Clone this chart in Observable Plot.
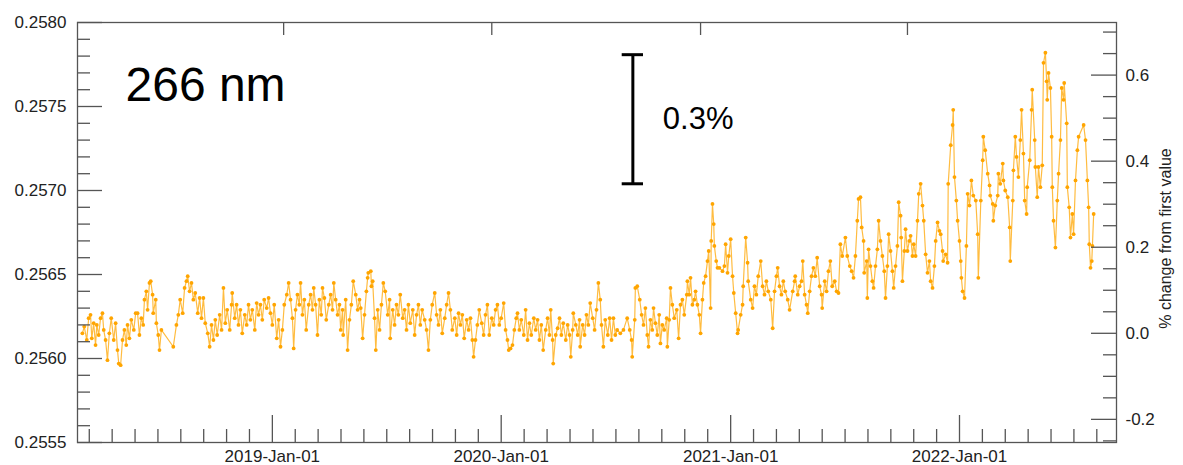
<!DOCTYPE html>
<html><head><meta charset="utf-8">
<script src="https://cdn.jsdelivr.net/npm/d3@7"></script>
<script src="https://cdn.jsdelivr.net/npm/@observablehq/plot@0.6"></script>
<style>body{margin:0;background:#fff} svg{display:block}</style>
</head><body><div id="chart"></div>
<script>
// ---- data ----
const epoch = "2018-01-01";           // day 0 of dayOffsets
const dayOffsets = [
62,65,69,72,75,77,80,83,85,88,
91,94,96,99,102,105,108,112,115,118,
120,123,126,129,132,134,137,140,144,147,
150,153,156,159,161,164,166,169,171,174,
175,179,180,183,185,188,207,212,215,218,
222,225,228,230,233,236,239,242,246,249,
252,255,258,262,265,268,271,274,277,281,
284,287,290,293,297,300,301,305,308,311,
314,317,321,324,327,330,333,337,340,343,
346,349,352,356,359,362,365,368,372,375,
378,381,384,388,391,394,397,399,402,405,
408,410,413,416,419,423,426,429,431,434,
437,440,443,445,448,451,455,458,461,463,
466,469,472,474,477,478,482,485,488,491,
494,498,501,504,506,509,512,515,517,518,
522,523,525,528,530,533,536,539,542,545,
549,552,553,557,560,563,566,569,573,576,
579,582,585,589,592,595,598,601,604,608,
611,614,617,620,624,627,630,633,636,640,
643,646,649,652,656,659,662,665,668,671,
675,678,681,684,686,689,692,695,699,702,
705,708,711,715,718,721,724,727,730,734,
737,740,742,745,748,751,754,756,759,762,
766,769,772,775,778,782,785,788,791,794,
797,801,804,807,809,812,813,817,820,823,
826,829,833,836,839,841,844,845,849,852,
855,856,860,863,866,869,872,876,879,882,
885,888,890,893,896,900,903,906,909,912,
915,920,925,931,935,938,939,943,944,947,
951,954,957,960,963,965,968,971,973,976,
979,982,984,987,990,994,995,998,1000,1003,
1006,1010,1013,1016,1019,1022,1026,1027,1030,1032,
1035,1038,1040,1043,1046,1048,1051,1053,1056,1059,
1061,1064,1065,1067,1069,1070,1073,1075,1078,1083,
1086,1088,1091,1093,1096,1099,1101,1104,1107,1108,
1112,1115,1116,1120,1123,1124,1128,1131,1134,1137,
1140,1144,1147,1150,1153,1156,1160,1163,1166,1169,
1171,1174,1177,1180,1183,1187,1190,1195,1198,1199,
1203,1206,1209,1211,1214,1217,1219,1222,1225,1228,
1231,1234,1238,1241,1242,1246,1249,1252,1255,1258,
1262,1265,1268,1271,1274,1279,1282,1286,1289,1292,
1295,1298,1300,1303,1305,1308,1309,1313,1314,1316,
1319,1322,1324,1327,1330,1332,1335,1338,1341,1343,
1346,1348,1351,1354,1356,1359,1362,1364,1367,1368,
1370,1373,1375,1378,1381,1383,1386,1388,1391,1394,
1396,1399,1402,1404,1407,1410,1413,1415,1418,1421,
1423,1426,1429,1431,1434,1435,1439,1442,1443,1447,
1450,1451,1453,1456,1458,1461,1463,1464,1466,1469,
1472,1474,1477,1480,1483,1487,1490,1491,1495,1498,
1499,1502,1506,1509,1510,1514,1515,1518,1522,1523,
1526,1530,1531,1534,1538,1541,1542,1546,1547,1550,
1552,1555,1558,1560,1563,1565,1568,1569,1573,1576,
1577,1581,1582,1585,1587,1590,1593,1595,1598,1600,
1601,1603,1606,1608,1609,1611,1614,1617,1619,1622,
1624,1627,1628,1632,1633,1636,1638,1641,1643,1646,
1649,1651,1659,1662,1665,1667,1668,1670,1672,1673,
1675
];
const values = [
.25615,.25619,.25611,.25624,.25626,.25612,.25621,.25608,.25620,.25614,
.25624,.25627,.25617,.25611,.25599,.25615,.25624,.25611,.25621,.25605,
.25597,.25596,.25611,.25617,.25608,.25620,.25612,.25623,.25617,.25627,
.25627,.25614,.25624,.25620,.25635,.25640,.25629,.25645,.25646,.25638,
.25627,.25635,.25621,.25614,.25605,.25617,.25607,.25620,.25626,.25635,
.25627,.25642,.25646,.25649,.25640,.25645,.25635,.25639,.25627,.25636,
.25624,.25636,.25621,.25615,.25607,.25620,.25611,.25623,.25614,.25626,
.25617,.25642,.25621,.25629,.25617,.25632,.25639,.25624,.25632,.25620,
.25629,.25615,.25626,.25620,.25632,.25623,.25629,.25617,.25633,.25626,
.25632,.25623,.25635,.25630,.25636,.25627,.25620,.25632,.25612,.25623,
.25607,.25617,.25632,.25638,.25645,.25635,.25624,.25606,.25629,.25638,
.25632,.25645,.25626,.25635,.25617,.25632,.25638,.25629,.25642,.25632,
.25614,.25635,.25626,.25642,.25636,.25623,.25632,.25638,.25629,.25645,
.25635,.25626,.25632,.25617,.25629,.25614,.25635,.25605,.25623,.25632,
.25646,.25638,.25629,.25635,.25630,.25612,.25626,.25640,.25648,.25651,
.25652,.25643,.25646,.25624,.25605,.25629,.25617,.25632,.25645,.25640,
.25626,.25635,.25612,.25629,.25620,.25632,.25626,.25638,.25624,.25629,
.25617,.25632,.25621,.25629,.25614,.25626,.25632,.25620,.25629,.25623,
.25617,.25605,.25623,.25632,.25639,.25626,.25620,.25629,.25615,.25624,
.25632,.25639,.25629,.25617,.25624,.25614,.25627,.25620,.25626,.25612,
.25623,.25617,.25624,.25611,.25601,.25611,.25620,.25629,.25621,.25614,
.25626,.25632,.25614,.25624,.25620,.25629,.25632,.25620,.25624,.25633,
.25617,.25611,.25605,.25606,.25608,.25617,.25624,.25627,.25617,.25623,
.25614,.25629,.25611,.25621,.25614,.25624,.25617,.25623,.25611,.25620,
.25605,.25617,.25624,.25614,.25629,.25611,.25597,.25614,.25618,.25624,
.25614,.25621,.25611,.25620,.25614,.25601,.25617,.25627,.25620,.25614,
.25623,.25607,.25620,.25614,.25626,.25620,.25633,.25624,.25617,.25629,
.25645,.25635,.25620,.25607,.25623,.25614,.25624,.25611,.25624,.25614,
.25617,.25615,.25617,.25624,.25617,.25611,.25601,.25623,.25642,.25643,
.25635,.25626,.25620,.25630,.25614,.25607,.25623,.25617,.25630,.25621,
.25614,.25626,.25609,.25620,.25617,.25624,.25607,.25623,.25642,.25632,
.25624,.25629,.25612,.25632,.25635,.25626,.25638,.25646,.25638,.25648,
.25632,.25635,.25640,.25632,.25626,.25615,.25635,.25645,.25649,.25658,
.25664,.25630,.25670,.25692,.25680,.25667,.25658,.25654,.25654,.25652,
.25655,.25668,.25651,.25661,.25671,.25649,.25639,.25627,.25615,.25617,
.25626,.25632,.25643,.25672,.25657,.25646,.25635,.25630,.25643,.25638,
.25649,.25658,.25643,.25638,.25646,.25640,.25635,.25618,.25640,.25649,
.25654,.25643,.25638,.25646,.25640,.25635,.25629,.25640,.25646,.25649,
.25638,.25643,.25646,.25658,.25638,.25632,.25627,.25640,.25649,.25654,
.25649,.25660,.25643,.25638,.25630,.25646,.25640,.25652,.25658,.25643,
.25646,.25640,.25639,.25668,.25661,.25672,.25661,.25655,.25652,.25648,
.25661,.25682,.25695,.25696,.25678,.25670,.25651,.25658,.25636,.25665,
.25655,.25646,.25642,.25655,.25665,.25682,.25670,.25661,.25652,.25636,
.25655,.25674,.25664,.25652,.25642,.25655,.25667,.25693,.25685,.25672,
.25646,.25664,.25677,.25664,.25670,.25673,.25661,.25668,.25661,.25682,
.25698,.25704,.25691,.25682,.25662,.25651,.25658,.25646,.25642,.25655,
.25670,.25681,.25676,.25674,.25664,.25658,.25662,.25657,.25704,.25727,
.25739,.25748,.25708,.25694,.25682,.25670,.25658,.25648,.25640,.25636,
.25667,.25698,.25691,.25706,.25697,.25694,.25674,.25648,.25694,.25718,
.25732,.25724,.25710,.25703,.25697,.25692,.25682,.25691,.25697,.25710,
.25704,.25716,.25706,.25700,.25696,.25678,.25658,.25694,.25712,.25732,
.25720,.25708,.25730,.25748,.25722,.25694,.25686,.25702,.25718,.25748,
.25760,.25730,.25714,.25696,.25714,.25702,.25715,.25776,.25782,.25765,
.25754,.25770,.25761,.25732,.25702,.25682,.25666,.25694,.25710,.25730,
.25761,.25754,.25764,.25740,.25702,.25690,.25672,.25686,.25674,.25706,
.25724,.25732,.25739,.25730,.25706,.25690,.25668,.25654,.25658,.25667,
.25686
];
const xDomain = ["2018-02-24T05:00:00Z", "2022-09-08T10:00:00Z"];
const yDomain = [0.2555, 0.2580];
const yearTicks = ["2019-01-01", "2020-01-01", "2021-01-01", "2022-01-01"];
const topTickDays = [383, 715, 1048, 1378];
const leftMajorTicks = [0.2555, 0.2560, 0.2565, 0.2570, 0.2575, 0.2580];
const rightMajorPct = [-0.2, 0.0, 0.2, 0.4, 0.6];
const rightMinorPct = [-0.25, -0.15, -0.1, -0.05, 0.05, 0.1, 0.15, 0.25, 0.3, 0.35, 0.45, 0.5, 0.55, 0.65, 0.7];
const wavelengthLabel = "266 nm";
const rightTitle = "% change from first value";
const scaleBarDay = 940, scaleBarLow = 0.25704, scaleBarPct = 0.3, scaleBarText = "0.3%";

// ---- build ----
const t0 = Date.parse(epoch + "T00:00:00Z");
const toDate = d => new Date(t0 + d * 864e5);
const n = Math.min(dayOffsets.length, values.length);
const series = d3.range(n).map(i => ({date: toDate(dayOffsets[i]), value: values[i]}));
const v0 = values[0];
const pctToVal = p => v0 * (1 + p / 100);
const xDom = xDomain.map(s => new Date(s));

const leftMinor = d3.range(1, 25).filter(i => i % 5).map(i => +(0.2555 + i * 0.0001).toFixed(4));
const minorX = [];
for (const yr of [2018, 2019, 2020, 2021, 2022]) {
  const a = Date.UTC(yr, 0, 1), b = Date.UTC(yr + 1, 0, 1);
  for (let k = 1; k < 10; k++) minorX.push(new Date(a + (b - a) * k / 10));
}
const minorXIn = minorX.filter(d => d >= xDom[0] && d <= xDom[1]);

const barDate = toDate(scaleBarDay);
const barHigh = scaleBarLow + v0 * scaleBarPct / 100;
const capHalf = 17 * 864e5;

const font = "'Liberation Sans', Arial, Helvetica, sans-serif";
const tickColor = "#555";
const textColor = "#222";

const chart = Plot.plot({
  width: 1183, height: 465,
  marginLeft: 77, marginRight: 67, marginTop: 22, marginBottom: 23,
  style: {fontFamily: font, fontSize: "17px", color: textColor, background: "#fff"},
  x: {type: "utc", domain: xDom, label: null},
  y: {domain: yDomain, label: null},
  marks: [
    Plot.line(series, {x: "date", y: "value", stroke: "#FFA500", strokeOpacity: 0.75, strokeWidth: 1.2}),
    Plot.dot(series, {x: "date", y: "value", r: 1.9, fill: "#FFA500", stroke: null}),
    Plot.frame({stroke: tickColor, strokeWidth: 1.3}),
    // bottom axis
    Plot.axisX({anchor: "bottom", ticks: yearTicks.map(d => new Date(d)), tickSize: -27, tickPadding: 34,
      tickFormat: d3.utcFormat("%Y-%b-%d"), stroke: tickColor, fill: textColor, strokeWidth: 1.3, fontSize: 17, label: null}),
    Plot.axisX({anchor: "bottom", ticks: minorXIn, tickSize: -13, tickFormat: () => "", stroke: tickColor, strokeWidth: 1.3, label: null}),
    Plot.axisX({anchor: "top", ticks: topTickDays.map(toDate), tickSize: -12, tickFormat: () => "", stroke: tickColor, strokeWidth: 1.3, label: null}),
    // left axis
    Plot.axisY({anchor: "left", ticks: leftMajorTicks, tickSize: -25, tickPadding: 36,
      tickFormat: d3.format(".4f"), stroke: tickColor, fill: textColor, strokeWidth: 1.3, fontSize: 17, label: null}),
    Plot.axisY({anchor: "left", ticks: leftMinor, tickSize: -13, tickFormat: () => "", stroke: tickColor, strokeWidth: 1.3, label: null}),
    // right axis (% change from first value)
    Plot.axisY({anchor: "right", ticks: rightMajorPct.map(pctToVal), tickSize: -26, tickPadding: 35,
      tickFormat: d => ((d / v0 - 1) * 100).toFixed(1), stroke: tickColor, fill: textColor, strokeWidth: 1.3, fontSize: 17, label: null}),
    Plot.axisY({anchor: "right", ticks: rightMinorPct.map(pctToVal), tickSize: -14, tickFormat: () => "", stroke: tickColor, strokeWidth: 1.3, label: null}),
    Plot.text([rightTitle], {frameAnchor: "right", dx: 49, dy: 6, rotate: -90, fontSize: 16, fill: textColor, textAnchor: "middle", lineAnchor: "middle"}),
    // annotations
    Plot.text([wavelengthLabel], {frameAnchor: "top-left", dx: 48, dy: 78, textAnchor: "start", lineAnchor: "bottom", fontSize: 48, fill: "#000"}),
    Plot.ruleX([barDate], {x: d => d, y1: scaleBarLow, y2: barHigh, stroke: "#000", strokeWidth: 3}),
    Plot.ruleY([scaleBarLow, barHigh], {y: d => d, x1: new Date(+barDate - capHalf), x2: new Date(+barDate + capHalf), stroke: "#000", strokeWidth: 3}),
    Plot.text([scaleBarText], {x: barDate, y: (scaleBarLow + barHigh) / 2, dx: 30, textAnchor: "start", lineAnchor: "middle", fontSize: 31, fill: "#000"})
  ]
});
document.getElementById("chart").append(chart);
</script>
</body></html>
